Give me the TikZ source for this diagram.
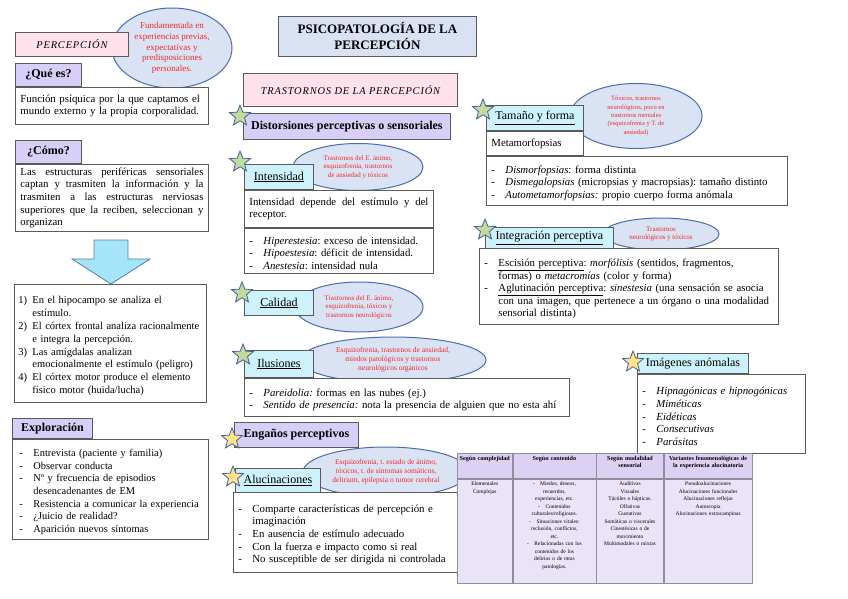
\documentclass[tikz,border=0pt]{standalone}
\usepackage{fontspec}
\setmainfont{Liberation Serif}
\newfontfamily\spacedfont[LetterSpace=8]{Liberation Serif}
\usepackage{tikz}
\usetikzlibrary{positioning,shapes.geometric}
\frenchspacing
\definecolor{boxgray}{HTML}{5A5A5A}
\definecolor{softpink}{HTML}{FFE1EC}
\definecolor{softlav}{HTML}{D7CFF7}
\definecolor{softcyan}{HTML}{CDF2FC}
\definecolor{titlefill}{HTML}{D9E2F3}
\definecolor{cloudfill}{HTML}{DAE3F3}
\definecolor{cloudblue}{HTML}{4A6CAB}
\definecolor{notered}{HTML}{F2262C}
\definecolor{starblue}{HTML}{41619E}
\definecolor{stargreen}{HTML}{C4D99E}
\definecolor{staryellow}{HTML}{FFE28A}
\definecolor{arrowcyan}{HTML}{A6E5F7}
\definecolor{arrowblue}{HTML}{4F7DBA}
\definecolor{tablefill}{HTML}{EBE4F8}
\definecolor{tablehead}{HTML}{DCD1F3}
\definecolor{cellgray}{HTML}{8E8E9E}
\newcommand{\setfs}[2]{\fontsize{#1}{#2}\selectfont}
\newcommand{\litem}[2][-]{\par\noindent\hangindent=14pt\hangafter=1\makebox[14pt][l]{#1}#2\par}
\tikzset{
  textbox/.style={anchor=north west, draw=boxgray, fill=white, line width=0.9pt, inner xsep=5pt, inner ysep=3pt, align=left, font=\setfs{10.8}{12.6}},
  headbox/.style={anchor=north west, draw=boxgray, line width=0.9pt, inner sep=2pt},
  pinkhead/.style={headbox, fill=softpink, font=\setfs{10.4}{12}\spacedfont\itshape},
  lavhead/.style={headbox, fill=softlav, font=\setfs{12}{13}\bfseries},
  cyanhead/.style={headbox, fill=softcyan, font=\setfs{12}{13}},
  titlebox/.style={headbox, fill=titlefill, align=center, font=\setfs{13}{16}\bfseries},
  noteoval/.style={ellipse, draw=cloudblue, fill=cloudfill, line width=1pt, text=notered, align=center, inner sep=0pt, font=\setfs{7.5}{9}},
  greenstar/.style={star, star points=5, star point ratio=2.3, minimum size=22pt, inner sep=0pt, draw=starblue, fill=stargreen, line width=0.8pt},
  yellowstar/.style={greenstar, fill=staryellow},
  bigarrow/.style={draw=arrowblue, fill=arrowcyan, line width=0.8pt, line join=miter},
  cell/.style={anchor=north west, draw=cellgray, fill=tablefill, line width=0.6pt, align=center, inner sep=2pt, text height=5pt, font=\setfs{5.5}{7.5}},
  headcell/.style={cell, fill=tablehead, text depth=16pt, font=\setfs{6.1}{7.2}\bfseries},
  bodycell/.style={cell, text depth=95pt}
}

\begin{document}
\begin{tikzpicture}[x=1pt, y=-1pt]
  \fill[white] (0,0) rectangle (848,599);
  \useasboundingbox (0,0) rectangle (848,599);

  % notes behind the boxes
  \node[noteoval, minimum width=120pt, minimum height=80pt, font=\setfs{9}{10.6}] (fundoval) at (172,48) {Fundamentada en\\experiencias previas,\\expectativas y\\predisposiciones\\personales.};
  \node[noteoval, minimum width=130pt, minimum height=47pt, font=\setfs{7}{8.4}] (intensoval) at (358,167) {Trastornos del E. ánimo,\\esquizofrenia, trastornos\\de ansiedad y tóxicos};
  \node[noteoval, minimum width=128pt, minimum height=50pt, font=\setfs{7}{8.4}] (calidadoval) at (359,307) {Trastornos del E. ánimo,\\esquizofrenia, tóxicos y\\trastornos neurológicos};
  \node[noteoval, minimum width=186pt, minimum height=46pt] (ilusoval) at (393,360) {Esquizofrenia, trastornos de ansiedad,\\miedos patológicos y trastornos\\neurológicos orgánicos};
  \node[noteoval, minimum width=166pt, minimum height=50pt] (alucoval) at (386,472) {Esquizofrenia, t. estado de ánimo,\\tóxicos, t. de síntomas somáticos,\\delirium, epilepsia o tumor cerebral};
  \node[noteoval, minimum width=132pt, minimum height=65pt, font=\setfs{6.5}{8.4}] (tamanooval) at (636,116) {Tóxicos, trastornos\\neurológicos, poco en\\trastornos mentales\\(esquizofrenia y T. de\\ansiedad)};
  \node[noteoval, minimum width=116pt, minimum height=32pt, font=\setfs{7}{8.8}] (integoval) at (661,234) {Trastornos\\neurológicos y tóxicos};

  % left column
  \node[pinkhead, minimum width=113pt, minimum height=24pt] (percep) at (15,32) {PERCEPCIÓN};
  \node[lavhead, minimum width=66pt, minimum height=23pt] (quees) at (15,63) {¿Qué es?};
  \node[textbox, text width=183pt, minimum height=37pt] (queesdesc) at (quees.south west) {Función psíquica por la que captamos el mundo externo y la propia corporalidad.};
  \node[lavhead, minimum width=66pt, minimum height=23pt] (como) at (15,140) {¿Cómo?};
  \node[textbox, align=justify, text width=183pt, minimum height=67pt] (comodesc) at (como.south west) {Las estructuras periféricas sensoriales\linebreak captan y trasmiten la información y la\linebreak trasmiten a las estructuras nerviosas\linebreak superiores que la reciben, seleccionan y\linebreak organizan};
  \draw[bigarrow] (94,240) -- (128,240) -- (128,259) -- (150,259) -- (111,284) -- (72,259) -- (94,259) -- cycle;
  \node[textbox, inner xsep=4pt, text width=184pt, minimum height=118pt, font=\setfs{10.5}{12.8}] (pasos) at (14,284) {\litem[1)]{En el hipocampo se analiza el\newline estímulo.}\litem[2)]{El córtex frontal analiza racionalmente\newline e integra la percepción.}\litem[3)]{Las amígdalas analizan\newline emocionalmente el estímulo (peligro)}\litem[4)]{El córtex motor produce el elemento\newline físico motor (huida/lucha)}};
  \node[lavhead, minimum width=80pt, minimum height=20pt] (explor) at (12,418) {Exploración};
  \node[textbox, inner xsep=7pt, text width=182pt, minimum height=100pt, font=\setfs{10.4}{12.6}] (explorlist) at (explor.south west) {\litem{Entrevista (paciente y familia)}\litem{Observar conducta}\litem{Nº y frecuencia de episodios\newline desencadenantes de EM}\litem{Resistencia a comunicar la experiencia}\litem{¿Juicio de realidad?}\litem{Aparición nuevos síntomas}};

  % middle column
  \node[titlebox, minimum width=198pt, minimum height=40pt] (title) at (278,16) {PSICOPATOLOGÍA DE LA\\PERCEPCIÓN};
  \node[pinkhead, minimum width=214pt, minimum height=33pt] (trast) at (243,73) {TRASTORNOS DE LA PERCEPCIÓN};
  \node[lavhead, minimum width=207pt, minimum height=26pt] (distor) at (243,113) {Distorsiones perceptivas o sensoriales};
  \node[cyanhead, minimum width=69pt, minimum height=25pt] (intens) at (244,164) {\underline{Intensidad}};
  \node[textbox, align=justify, text width=179pt, minimum height=37pt] (intensdesc) at (intens.south west) {Intensidad depende del estímulo y del\linebreak receptor.};
  \node[textbox, text width=179pt, minimum height=45pt] (intenslist) at (intensdesc.south west) {\litem{\textit{Hiperestesia}: exceso de intensidad.}\litem{\textit{Hipoestesia}: déficit de intensidad.}\litem{\textit{Anestesia}: intensidad nula}};
  \node[cyanhead, minimum width=69pt, minimum height=25pt] (calidad) at (244,290) {\underline{Calidad}};
  \node[cyanhead, minimum width=69pt, minimum height=27pt] (ilus) at (244,350) {\underline{Ilusiones}};
  \node[textbox, text width=315pt, minimum height=38pt] (iluslist) at (ilus.south west) {\litem{\textit{Pareidolia:} formas en las nubes (ej.)}\litem{\textit{Sentido de presencia:} nota la presencia de alguien que no esta ahí}};
  \node[lavhead, minimum width=124pt, minimum height=25pt] (engan) at (234,422) {Engaños perceptivos};
  \node[cyanhead, minimum width=85pt, minimum height=24pt] (aluc) at (235,468) {\underline{Alucinaciones}};
  \node[textbox, text width=214pt, minimum height=80pt] (aluclist) at (233,492) {\litem{Comparte características de percepción e\newline imaginación}\litem{En ausencia de estímulo adecuado}\litem{Con la fuerza e impacto como si real}\litem{No susceptible de ser dirigida ni controlada}};

  % right column
  \node[cyanhead, minimum width=97pt, minimum height=25pt] (tamano) at (486,105) {\underline{Tamaño y forma}};
  \node[textbox, text width=87pt, minimum height=24pt] (metamorf) at (tamano.south west) {Metamorfopsias};
  \node[textbox, text width=291pt, minimum height=49pt] (tamanolist) at (metamorf.south west) {\litem{\textit{Dismorfopsias}: forma distinta}\litem{\textit{Dismegalopsias} (micropsias y macropsias): tamaño distinto}\litem{\textit{Autometamorfopsias:} propio cuerpo forma anómala}};
  \node[cyanhead, minimum width=128pt, minimum height=21pt] (integ) at (485,227) {\underline{Integración perceptiva}};
  \node[textbox, text width=289pt, minimum height=76pt] (integlist) at (479,248) {\litem{\underline{Escisión perceptiva}: \textit{morfólisis} (sentidos, fragmentos,\newline formas) o \textit{metacromías} (color y forma)}\litem{\underline{Aglutinación perceptiva}: \textit{sinestesia} (una sensación se asocia\newline con una imagen, que pertenece a un órgano o una modalidad\newline sensorial distinta)}};
  \node[cyanhead, minimum width=111pt, minimum height=20pt] (imagen) at (637,353) {Imágenes anómalas};
  \node[textbox, text width=158pt, minimum height=79pt] (imagenlist) at (imagen.south west) {\litem{\textit{Hipnagónicas e hipnogónicas}}\litem{\textit{Miméticas}}\litem{\textit{Eidéticas}}\litem{\textit{Consecutivas}}\litem{\textit{Parásitas}}\vspace*{9pt}};

  % stars
  \node[greenstar] (distorstar) at (240,116) {};
  \node[greenstar] (intensstar) at (240,162) {};
  \node[greenstar] (calidadstar) at (242,293) {};
  \node[greenstar] (ilusstar) at (243,355) {};
  \node[yellowstar] (enganstar) at (232,439) {};
  \node[yellowstar] (alucstar) at (233,477) {};
  \node[greenstar] (tamanostar) at (483,110) {};
  \node[greenstar] (integstar) at (485,230) {};
  \node[yellowstar] (imagenstar) at (633,362) {};

  % table of hallucinations
  \node[headcell, text width=51pt] (thcompl) at (457,453) {Según complejidad};
  \node[headcell, text width=79pt] (thcont) at (thcompl.north east) {Según contenido};
  \node[headcell, text width=63pt] (thmodal) at (thcont.north east) {Según modalidad\\sensorial};
  \node[headcell, text width=84pt] (thvar) at (thmodal.north east) {Variantes fenomenológicas de\\la experiencia alucinatoria};
  \node[bodycell, text width=51pt] (tdcompl) at (thcompl.south west) {Elementales\\Complejas};
  \node[bodycell, text width=79pt] (tdcont) at (thcont.south west) {-\quad Miedos, deseos,\\recuerdos,\\experiencias, etc.\\-\quad Contenidos\\culturales/religiosos.\\-\quad Situaciones vitales:\\reclusión, conflictos,\\etc.\\-\quad Relacionadas con los\\contenidos de los\\delirios o de otras\\patologías.};
  \node[bodycell, text width=63pt] (tdmodal) at (thmodal.south west) {Auditivas\\Visuales\\Táctiles o hápticas.\\Olfativas\\Gustativas\\Somáticas o viscerales\\Cinestésicas o de\\movimiento\\Multimodales o mixtas};
  \node[bodycell, text width=84pt] (tdvar) at (thvar.south west) {Pseudoalucinaciones\\Alucinaciones funcionales\\Alucinaciones reflejas\\Autoscopia\\Alucinaciones extracampinas};
\end{tikzpicture}
\end{document}
